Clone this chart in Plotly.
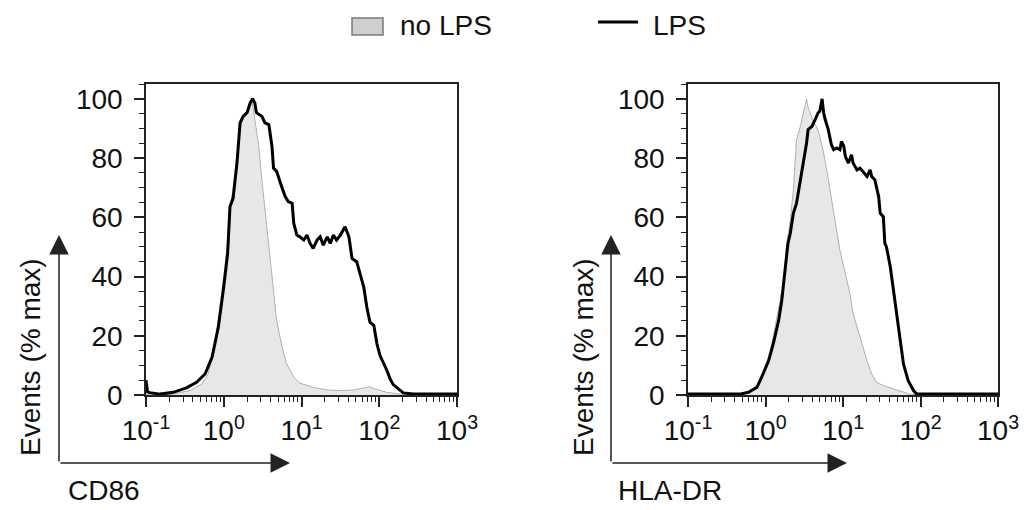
import numpy as np
import plotly.graph_objects as go

# ---------------- data (x as log10 intensity, y as % of max events) ----------------
cd86_nolps_log = [-1.00, -0.65, -0.43, -0.28, -0.20, -0.11, -0.05, 0.00, 0.05, 0.08, 0.12, 0.19, 0.23,
                  0.30, 0.34, 0.36, 0.40, 0.45, 0.49, 0.55, 0.62, 0.68, 0.75, 0.81, 0.90, 0.98, 1.15,
                  1.33, 1.50, 1.67, 1.80, 1.88, 1.95, 2.10, 2.27, 3.00]
cd86_nolps_pct = [0.0, 0.3, 1.5, 3.7, 7.1, 17.3, 29.7, 39.9, 52.3, 63.6, 69.3, 86.2, 93.0,
                  95.8, 98.1, 100.0, 93.0, 84.0, 72.7, 58.0, 39.9, 25.2, 16.2, 10.5, 6.0, 4.0, 2.6,
                  1.7, 1.5, 1.7, 2.4, 2.8, 2.0, 0.9, 0.3, 0.0]

cd86_lps_log = [-1.00, -0.98, -0.95, -0.82, -0.65, -0.48, -0.35, -0.24, -0.15, -0.07, 0.00, 0.05, 0.08,
                0.12, 0.17, 0.21, 0.25, 0.30, 0.34, 0.37, 0.40, 0.42, 0.49, 0.53, 0.58, 0.62, 0.64,
                0.68, 0.73, 0.79, 0.83, 0.88, 0.90, 0.94, 0.98, 1.03, 1.07, 1.11, 1.15, 1.20, 1.24,
                1.28, 1.33, 1.37, 1.41, 1.45, 1.50, 1.54, 1.56, 1.61, 1.65, 1.71, 1.76, 1.80, 1.84,
                1.88, 1.93, 1.97, 2.01, 2.06, 2.10, 2.14, 2.18, 2.25, 2.31, 2.44, 3.00]
cd86_lps_pct = [5.0, 1.0, 0.8, 0.3, 0.9, 2.4, 4.3, 7.1, 12.8, 22.9, 36.5, 47.8, 63.6,
                66.4, 78.3, 91.9, 94.1, 95.3, 98.6, 100.0, 98.6, 95.3, 94.1, 91.9, 91.3, 84.0, 76.6,
                75.5, 71.5, 67.0, 65.3, 64.7, 58.0, 54.0, 53.4, 52.3, 54.0, 51.2, 49.5, 52.3, 53.4,
                50.6, 53.4, 51.2, 54.0, 52.3, 54.0, 55.7, 56.8, 53.4, 46.1, 45.0, 39.9, 36.5, 29.7,
                24.6, 23.5, 17.3, 13.3, 10.5, 8.2, 5.4, 3.5, 2.0, 0.7, 0.3, 0.3]

hladr_nolps_log = [-1.00, -0.33, -0.22, -0.11, -0.05, 0.06, 0.14, 0.23, 0.27, 0.32, 0.36, 0.40, 0.45,
                   0.49, 0.53, 0.55, 0.57, 0.62, 0.66, 0.70, 0.75, 0.79, 0.83, 0.88, 0.92, 0.96, 1.03,
                   1.09, 1.13, 1.18, 1.24, 1.31, 1.37, 1.43, 1.52, 1.61, 1.74, 1.86, 1.95, 3.00]
hladr_nolps_pct = [0.0, 0.1, 0.9, 3.2, 6.0, 13.9, 25.2, 37.6, 50.1, 59.1, 69.3, 86.2, 90.7,
                   95.3, 100.0, 97.0, 95.8, 91.9, 90.7, 87.3, 81.7, 76.0, 69.3, 62.5, 55.7, 48.9, 41.0,
                   34.2, 27.5, 22.9, 17.3, 11.6, 7.1, 4.3, 3.2, 2.4, 1.2, 0.3, 0.0, 0.0]

hladr_lps_log = [-1.00, -0.33, -0.22, -0.11, -0.05, 0.04, 0.10, 0.17, 0.21, 0.25, 0.29, 0.32, 0.36,
                 0.40, 0.45, 0.49, 0.53, 0.55, 0.60, 0.64, 0.68, 0.70, 0.73, 0.75, 0.77, 0.81, 0.85,
                 0.88, 0.92, 0.96, 0.98, 1.01, 1.03, 1.07, 1.11, 1.13, 1.18, 1.22, 1.26, 1.31, 1.35,
                 1.37, 1.41, 1.46, 1.48, 1.52, 1.54, 1.56, 1.61, 1.65, 1.69, 1.74, 1.78, 1.84, 1.91,
                 1.95, 3.00]
hladr_lps_pct = [0.3, 0.3, 0.9, 2.6, 6.0, 11.6, 17.3, 25.2, 32.0, 42.1, 51.2, 54.6, 61.4,
                 64.7, 72.7, 78.3, 85.1, 89.6, 90.7, 93.0, 95.3, 95.8, 100.0, 95.3, 93.0, 89.6, 84.5,
                 82.8, 83.4, 82.8, 85.6, 84.0, 80.6, 78.3, 81.1, 78.3, 76.0, 76.6, 75.5, 73.8, 76.0,
                 73.8, 72.7, 67.0, 61.4, 60.2, 51.2, 50.1, 43.3, 35.4, 27.5, 18.4, 10.5, 4.9, 1.5,
                 0.3, 0.3]

marker_names = ["CD86", "HLA-DR"]
series_names = ["no LPS", "LPS"]
y_tick_values = [0, 20, 40, 60, 80, 100]
x_tick_values = [0.1, 1, 10, 100, 1000]
x_tick_labels = ["10<sup>-1</sup>", "10<sup>0</sup>", "10<sup>1</sup>", "10<sup>2</sup>", "10<sup>3</sup>"]

# ---------------- styling ----------------
W, H = 1026, 510
FONT = "Arial, 'Liberation Sans', sans-serif"
TXT = "#111111"
FS = 28
GREY_FILL = "#e6e7e9"
GREY_LINE = "#b0b0b0"

def px_x(p):
    return p / W

def px_y(p):
    return 1 - p / H

panels = [
    dict(nolps=(cd86_nolps_log, cd86_nolps_pct), lps=(cd86_lps_log, cd86_lps_pct),
         xd=(146, 457), xa="x", ya="y"),
    dict(nolps=(hladr_nolps_log, hladr_nolps_pct), lps=(hladr_lps_log, hladr_lps_pct),
         xd=(688, 998), xa="x2", ya="y2"),
]

fig = go.Figure()
for i, p in enumerate(panels):
    lx, ly = p["nolps"]
    fig.add_trace(go.Scatter(
        x=10 ** np.array(lx), y=ly, mode="lines", name=series_names[0],
        fill="tozeroy", fillcolor=GREY_FILL, line=dict(color=GREY_LINE, width=1),
        xaxis=p["xa"], yaxis=p["ya"], showlegend=False,
    ))
    lx, ly = p["lps"]
    fig.add_trace(go.Scatter(
        x=10 ** np.array(lx), y=ly, mode="lines", name=series_names[1],
        line=dict(color="#000000", width=3),
        xaxis=p["xa"], yaxis=p["ya"], showlegend=False,
    ))

y_top, y_bot = 84, 395
common_x = dict(
    type="log", range=[-1, 3], tickmode="array", tickvals=x_tick_values, ticktext=x_tick_labels,
    ticks="outside", ticklen=10, tickwidth=1.5, tickcolor="#222",
    showline=True, linecolor="#222", linewidth=1.5, mirror=True,
    showgrid=False, zeroline=False, automargin=False, ticklabeloverflow="allow",
    tickfont=dict(family=FONT, size=FS, color=TXT),
    minor=dict(ticks="outside", ticklen=5, tickwidth=1, tickcolor="#222", dtick="D1", showgrid=False),
)
common_y = dict(
    range=[0, 105], tickmode="array", tickvals=y_tick_values,
    ticks="outside", ticklen=10, tickwidth=1.5, tickcolor="#222",
    showline=True, linecolor="#222", linewidth=1.5, mirror=True,
    showgrid=False, zeroline=False, automargin=False, ticklabelstandoff=6,
    tickfont=dict(family=FONT, size=FS, color=TXT),
    minor=dict(ticks="outside", ticklen=5, tickwidth=1, tickcolor="#222", dtick=5, showgrid=False),
)

layout_axes = {}
for i, p in enumerate(panels):
    sx = "" if i == 0 else str(i + 1)
    layout_axes["xaxis" + sx] = dict(common_x, domain=[px_x(p["xd"][0]), px_x(p["xd"][1])],
                                     anchor="y" + sx)
    layout_axes["yaxis" + sx] = dict(common_y, domain=[px_y(y_bot), px_y(y_top)],
                                     anchor="x" + sx)

annotations = []
shapes = []
arrow_style = dict(showarrow=True, arrowhead=2, arrowsize=2.6, arrowwidth=1.5, arrowcolor="#222",
                   xref="paper", yref="paper", text="", axref="pixel", ayref="pixel")
for i, (ax_x, label_x, ylab_x, hx) in enumerate([(59, 66, 30, 290), (611, 616, 583, 847)]):
    annotations.append(dict(arrow_style, x=px_x(ax_x), y=px_y(235), ax=0, ay=228))
    annotations.append(dict(arrow_style, x=px_x(hx), y=px_y(463), ax=-(hx - ax_x), ay=0))
    annotations.append(dict(text="Events (% max)", textangle=-90, showarrow=False,
                            xref="paper", yref="paper", x=px_x(ylab_x), y=px_y(357),
                            xanchor="center", yanchor="middle",
                            font=dict(family=FONT, size=FS, color=TXT)))
    annotations.append(dict(text=marker_names[i], showarrow=False,
                            xref="paper", yref="paper", x=px_x(label_x), y=px_y(490),
                            xanchor="left", yanchor="middle",
                            font=dict(family=FONT, size=FS, color=TXT)))

# legend key: box for "no LPS", line for "LPS"
shapes.append(dict(type="rect", xref="paper", yref="paper",
                   x0=px_x(352), x1=px_x(383), y0=px_y(35), y1=px_y(18),
                   fillcolor="#cfcfd0", line=dict(color="#7a7a7a", width=1.5)))
annotations.append(dict(text=series_names[0], showarrow=False, xref="paper", yref="paper",
                        x=px_x(398), y=px_y(25), xanchor="left", yanchor="middle",
                        font=dict(family=FONT, size=FS, color=TXT)))
shapes.append(dict(type="line", xref="paper", yref="paper",
                   x0=px_x(598), x1=px_x(638), y0=px_y(22), y1=px_y(22),
                   line=dict(color="#000000", width=3)))
annotations.append(dict(text=series_names[1], showarrow=False, xref="paper", yref="paper",
                        x=px_x(651), y=px_y(25), xanchor="left", yanchor="middle",
                        font=dict(family=FONT, size=FS, color=TXT)))

fig.update_layout(
    width=W, height=H, margin=dict(l=0, r=0, t=0, b=0),
    paper_bgcolor="white", plot_bgcolor="white",
    font=dict(family=FONT, size=FS, color=TXT),
    showlegend=False,
    annotations=annotations, shapes=shapes,
    **layout_axes,
)

fig.write_html("out.html", config={"displayModeBar": False},
               post_script="document.body.style.margin='0';document.body.style.overflow='hidden';")
